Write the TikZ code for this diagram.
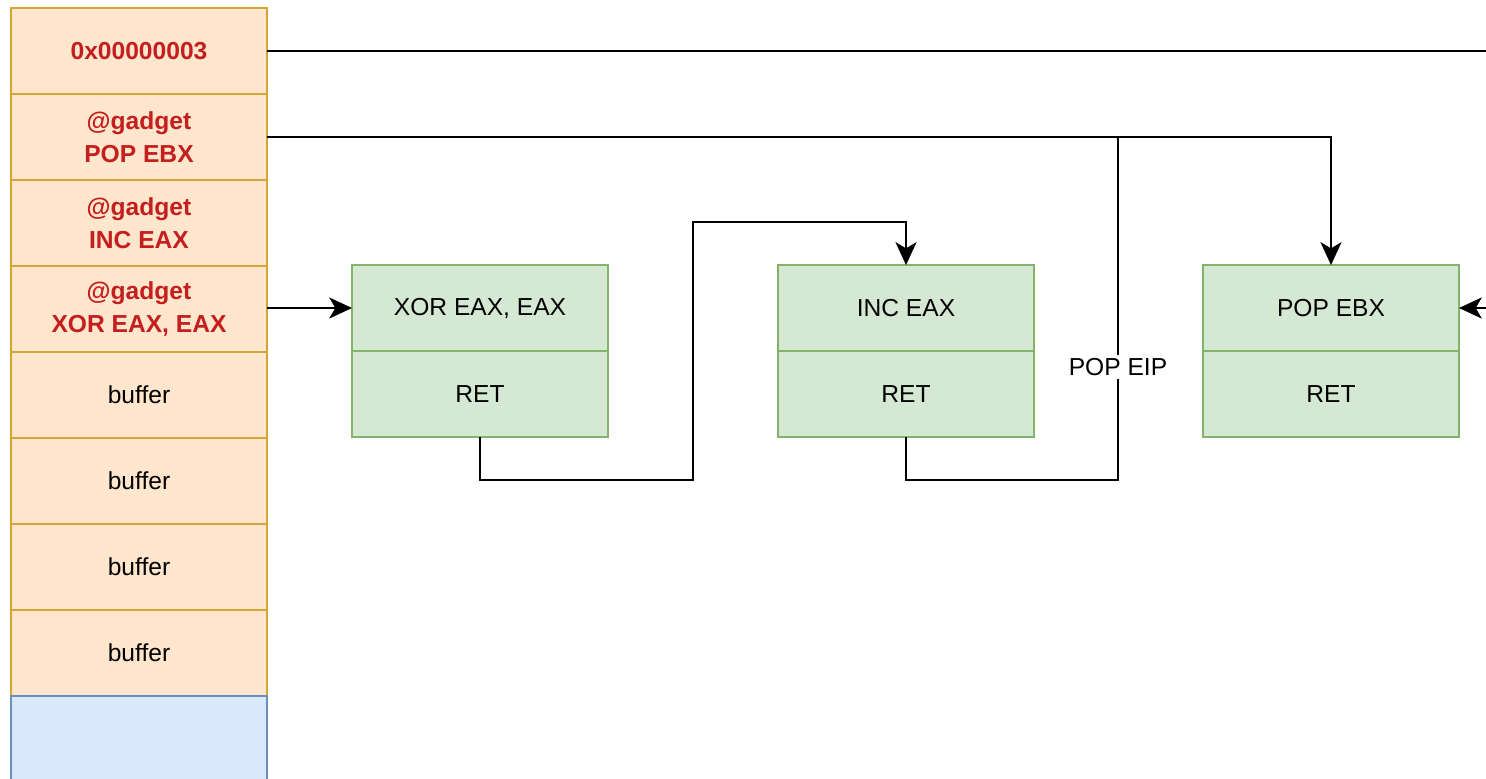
\documentclass[tikz,border=0pt]{standalone}
\usepackage{fontspec}
\setmainfont{Liberation Sans}
\usetikzlibrary{arrows.meta, positioning}

\definecolor{stackfill}{HTML}{FFE6CC}
\definecolor{stackline}{HTML}{D6A536}
\definecolor{basefill}{HTML}{DAE8FC}
\definecolor{baseline}{HTML}{6C8EBF}
\definecolor{insnfill}{HTML}{D5E8D4}
\definecolor{insnline}{HTML}{82B366}
\definecolor{gadgetred}{HTML}{C41E1E}

\begin{document}
\begin{tikzpicture}[x=0.02cm, y=-0.02cm, node distance=0pt,
    cell/.style={draw=stackline, fill=stackfill, line width=0.8pt, minimum width=5.12cm, minimum height=1.72cm,
        inner sep=0pt, outer sep=0pt, align=center, font=\fontsize{14}{19}\selectfont},
    gadget/.style={cell, text=gadgetred, font=\bfseries\fontsize{14}{19}\selectfont},
    insn/.style={draw=insnline, fill=insnfill, line width=0.8pt, minimum width=5.12cm, minimum height=1.72cm,
        inner sep=0pt, outer sep=0pt, font=\fontsize{14}{19}\selectfont},
    wire/.style={draw, line width=1.1pt},
    link/.style={wire, -{Stealth[length=13pt, width=12pt, inset=3.5pt]}}]

    \useasboundingbox (0,0) rectangle (1486,778);
    \clip (0,0) rectangle (1486,778);

    % stack
    \node[gadget] (val) at (139,51) {0x00000003};
    \node[gadget, below=of val] (gpop) {@gadget\\POP EBX};
    \node[gadget, below=of gpop] (ginc) {@gadget\\INC EAX};
    \node[gadget, below=of ginc] (gxor) {@gadget\\XOR EAX, EAX};
    \node[cell, below=of gxor] (buf1) {buffer};
    \node[cell, below=of buf1] (buf2) {buffer};
    \node[cell, below=of buf2] (buf3) {buffer};
    \node[cell, below=of buf3] (buf4) {buffer};
    \node[cell, draw=baseline, fill=basefill, below=of buf4] (base) {};

    % gadgets
    \node[insn] (xor) at (480,308) {XOR EAX, EAX};
    \node[insn, below=of xor] (xorret) {RET};
    \node[insn] (inc) at (906,308) {INC EAX};
    \node[insn, below=of inc] (incret) {RET};
    \node[insn] (pop) at (1331,308) {POP EBX};
    \node[insn, below=of pop] (popret) {RET};

    \coordinate (offright) at (1520,0);
    \coordinate (hop) at (693,222);
    \coordinate (eip) at (1118,137);

    % connectors
    \draw[link] (val.east) -- (val.east -| offright) |- (pop.east);
    \draw[link] (gpop.east) -| (pop.north);
    \draw[link] (gxor.east |- xor.west) -- (xor.west);
    \draw[link] (xorret.south) -- ++(0,43) -| (hop) -| (inc.north);
    \draw[wire] (incret.south) -- ++(0,43) -| node[pos=0.665, fill=white, inner sep=2pt,
        font=\fontsize{14}{19}\selectfont] {POP EIP} (eip);
\end{tikzpicture}
\end{document}
